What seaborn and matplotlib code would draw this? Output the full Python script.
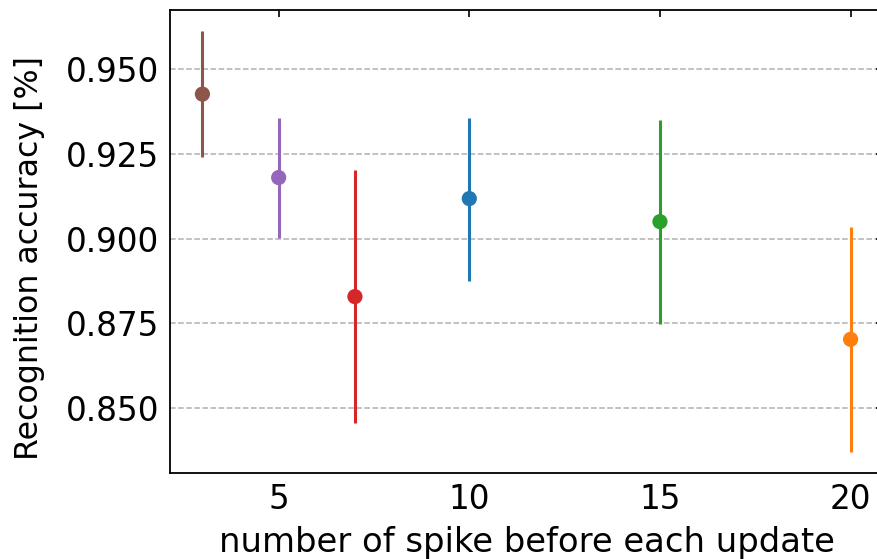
import numpy as np
import matplotlib
matplotlib.use("Agg")
import matplotlib.pyplot as plt
import seaborn as sns
import pandas as pd

# data (order follows the tab10 colour cycle)
spikes = [10, 20, 15, 7, 5, 3]
accuracy = [0.9118, 0.8703, 0.9050, 0.8829, 0.9180, 0.9426]
err_low = [0.0242, 0.0332, 0.0303, 0.0373, 0.0177, 0.0185]
err_high = [0.0238, 0.0332, 0.0300, 0.0374, 0.0176, 0.0186]
colors = ["#1f77b4", "#ff7f0e", "#2ca02c", "#d62728", "#9467bd", "#8c564b"]

df = pd.DataFrame({"spikes": spikes, "accuracy": accuracy})

sns.set_style("white")
plt.rcParams["font.family"] = ["DejaVu Sans"]
plt.rcParams["text.color"] = "black"
plt.rcParams["axes.labelcolor"] = "black"
plt.rcParams["xtick.color"] = "black"
plt.rcParams["ytick.color"] = "black"

fig = plt.figure(figsize=(8.77, 5.59), dpi=100)
ax = fig.add_axes([170 / 877, 86 / 559, 713 / 877, 463 / 559])

for i in range(len(spikes)):
    ax.errorbar(
        spikes[i], accuracy[i],
        yerr=[[err_low[i]], [err_high[i]]],
        fmt="none", ecolor=colors[i], elinewidth=2.2, capsize=0
    )

sns.scatterplot(
    data=df, x="spikes", y="accuracy",
    hue="spikes", palette=dict(zip(spikes, colors)),
    s=120, edgecolor="none", legend=False, ax=ax, zorder=3
)

ax.set_xlim(2.15, 20.85)
ax.set_ylim(0.8309, 0.9674)
ax.set_xticks([5, 10, 15, 20])
ax.set_yticks([0.850, 0.875, 0.900, 0.925, 0.950])
ax.set_yticklabels(["0.850", "0.875", "0.900", "0.925", "0.950"])

ax.yaxis.grid(True, linestyle="--", color="#b0b0b0", linewidth=1.1)
ax.xaxis.grid(False)
ax.set_axisbelow(True)

ax.tick_params(direction="in", length=5, width=1.2, labelsize=23.5,
               top=True, right=True, pad=7.5)
for s in ax.spines.values():
    s.set_linewidth(1.3)
    s.set_color("black")

ax.set_xlabel("number of spike before each update", fontsize=24.4, labelpad=7)
ax.set_ylabel("Recognition accuracy [%]", fontsize=22.8)
ax.yaxis.set_label_coords(-0.1753, 0.4654)

fig.savefig("out.png", dpi=100)
